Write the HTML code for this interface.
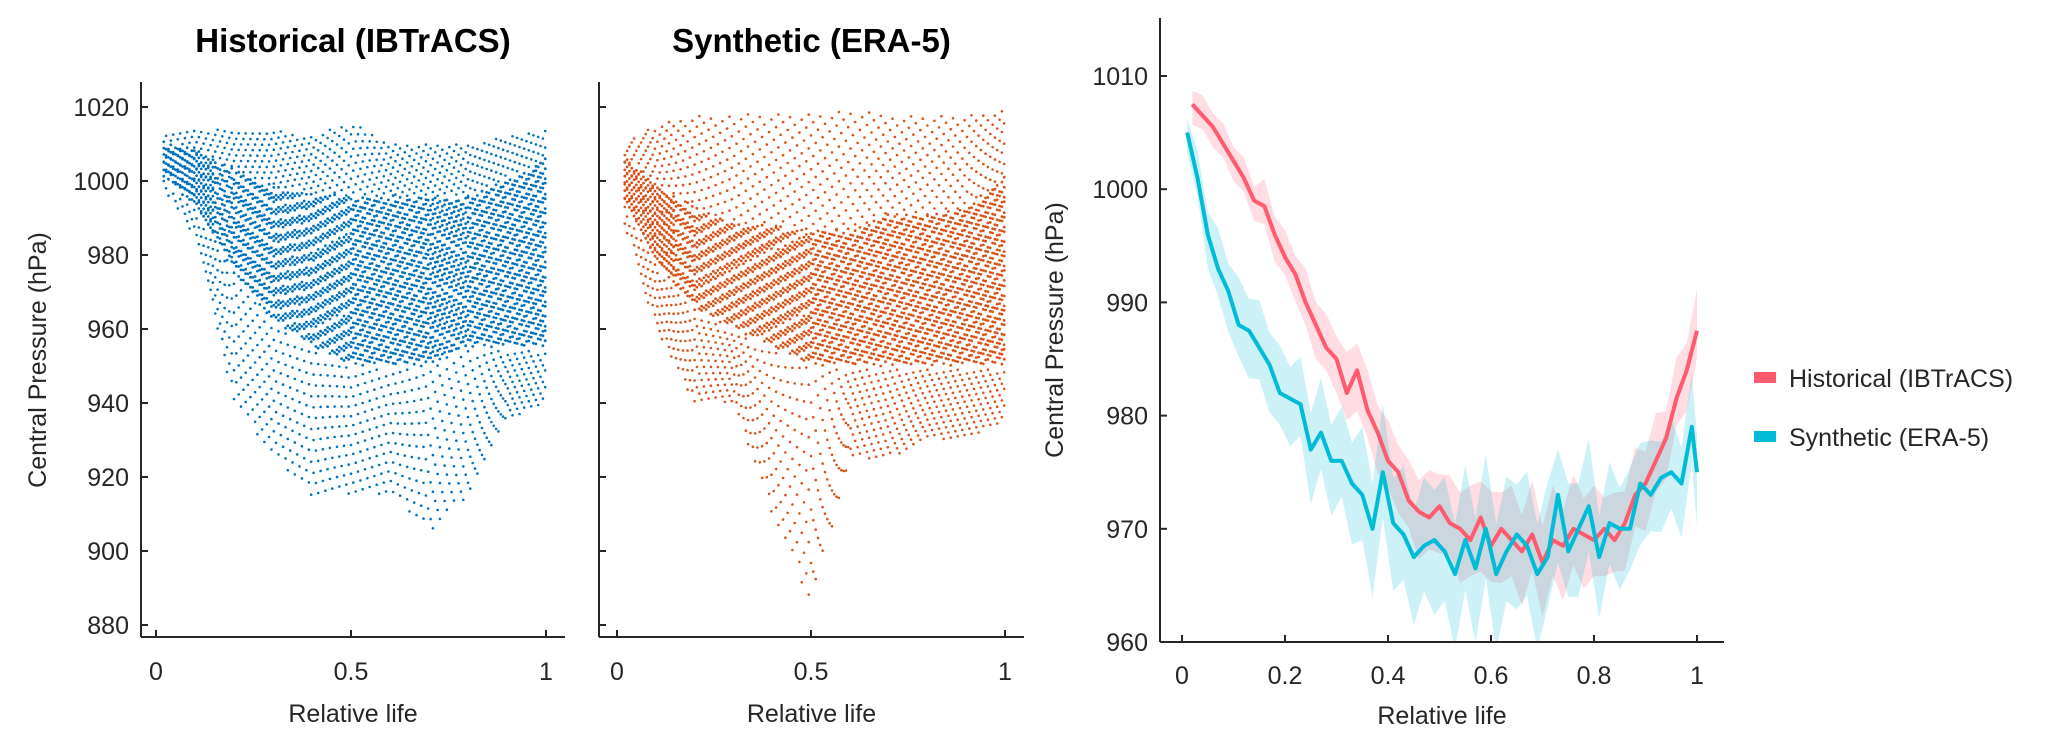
<!DOCTYPE html>
<html><head><meta charset="utf-8">
<style>
html,body{margin:0;padding:0;background:#fff;}
svg{display:block;font-family:"Liberation Sans",sans-serif;}
</style></head>
<body>
<svg id="fig" width="2067" height="741" viewBox="0 0 2067 741">
  <g id="p1"></g>
  <g id="p2"></g>
  <g id="p3"></g>
</svg>
<script>
// ---- scatter envelope data (relative life bins, hPa) ----
const binX = [0,0.1,0.2,0.3,0.4,0.5,0.6,0.7,0.8,0.9,1.0];
const histHi = [1012,1015,1013,1014,1012,1016,1010,1010,1010,1012,1014];
const histLo = [1000,985,940,925,915,915,915,905,915,935,940];
const histCoreHi = [1010,1008,1002,998,996,995,995,995,995,1000,1005];
const histCoreLo = [1003,993,975,962,955,950,950,950,955,955,955];
const synHi = [1010,1015,1018,1018,1018,1018,1019,1018,1018,1018,1019];
const synLo = [995,960,940,940,910,885,925,925,930,930,935];
const synCoreHi = [1008,998,992,988,987,986,986,990,990,992,1000];
const synCoreLo = [998,978,965,960,955,950,950,950,950,950,950];
// ---- mean curves ----
const histX = [0.02,0.04,0.06,0.08,0.10,0.12,0.14,0.16,0.18,0.20,0.22,0.24,0.26,0.28,0.30,0.32,0.34,0.36,0.38,0.40,0.42,0.44,0.46,0.48,0.50,0.52,0.54,0.56,0.58,0.60,0.62,0.64,0.66,0.68,0.70,0.72,0.74,0.76,0.78,0.80,0.82,0.84,0.86,0.88,0.90,0.92,0.94,0.96,0.98,1.00];
const histMean = [1007.5,1006.5,1005.5,1004,1002.5,1001,999,998.5,996,994,992.5,990,988,986,985,982,984,980.5,978.5,976,975,972.5,971.5,971,972,970.5,970,969,971,968.5,970,969,968,969.5,967,969,968.5,970,969.5,969,970,969,970.5,973,974,976,978,981.5,984,987.5];
const histHalf = [1.5,1.5,1.5,1.5,1.5,1.5,1.5,2,2,2,2,2.5,2.5,2.5,2.5,3,3,3,3,3,3,3,3.5,3.5,3.5,3.5,4,4,4,4,4,4,4,4,4,4,4,4,4,4,3.5,3.5,3.5,3.5,3.5,3.5,3,3,3,3];
const synX = [0.01,0.03,0.05,0.07,0.09,0.11,0.13,0.15,0.17,0.19,0.21,0.23,0.25,0.27,0.29,0.31,0.33,0.35,0.37,0.39,0.41,0.43,0.45,0.47,0.49,0.51,0.53,0.55,0.57,0.59,0.61,0.63,0.65,0.67,0.69,0.71,0.73,0.75,0.77,0.79,0.81,0.83,0.85,0.87,0.89,0.91,0.93,0.95,0.97,0.99,1.00];
const synMean = [1005,1001,996,993,991,988,987.5,986,984.5,982,981.5,981,977,978.5,976,976,974,973,970,975,970.5,969.5,967.5,968.5,969,968,966,969,966.5,970,966,968,969.5,968.5,966,967.5,973,968,970,972,967.5,970.5,970,970,974,973,974.5,975,974,979,975];
const synHalf = [1.5,2,2.5,3,3,3.5,3.5,3.5,3.5,3.5,3.5,3.5,4,4,4,4,4.5,5,5,5,5,5,5,5,5.5,5.5,5.5,5.5,5.5,5.5,5.5,5.5,5.5,5.5,5.5,5.5,5,5,5,5,4.5,4.5,4.5,4.5,4.5,4,4,4,4,4,4];
const p3YTicks = [960,970,980,990,1000,1010];
const p3XTicks = [0,0.2,0.4,0.6,0.8,1];
const scYTicks = [880,900,920,940,960,980,1000,1020];
const scXTicks = [0,0.5,1];

const NS='http://www.w3.org/2000/svg';
function mk(parent,tag,attrs,text){const e=document.createElementNS(NS,tag);for(const k in attrs)e.setAttribute(k,attrs[k]);if(text!==undefined)e.textContent=text;parent.appendChild(e);return e;}
function interp(xs,ys,x){for(let i=0;i<xs.length-1;i++){if(x<=xs[i+1]){const t=(x-xs[i])/(xs[i+1]-xs[i]);return ys[i]+t*(ys[i+1]-ys[i]);}}return ys[ys.length-1];}

function scatterPanel(g,ax,hi,lo,chi,clo,color,title,showYLabels){
  const x0=ax.x0,x1=ax.x1;
  const sx=v=>x0+v*(x1-x0);
  const sy=v=>107+(1020-v)*3.7;
  const pts=mk(g,'g',{fill:color});
  
  
  let col=0;
  for(let x=0.02;x<=1.0001;x+=0.006,col++){
    const h=interp(binX,hi,x),l=interp(binX,lo,x),ch=interp(binX,chi,x),cl=interp(binX,clo,x);
    const off=((col*7)%11)/11;
    const cs = x<0.15 ? 1.4 : 2.1;
    for(let y=cl+off*cs;y<=ch;y+=cs){mk(pts,'circle',{cx:sx(x).toFixed(1),cy:sy(y+((col*3+Math.round(y))%5)*0.3).toFixed(1),r:1.4});}
    const ext=(h-ch), step1=Math.max(4.5, ext/3.5);
    for(let y=ch+1+((col*5)%13)*step1/13;y<=h;y+=step1){mk(pts,'circle',{cx:sx(x).toFixed(1),cy:sy(y).toFixed(1),r:1.3});}
    const ext2=(cl-l), step2=Math.max(4.5, ext2/4.5);
    for(let y=cl-1-((col*4)%13)*step2/13;y>=l;y-=step2){mk(pts,'circle',{cx:sx(x).toFixed(1),cy:sy(y).toFixed(1),r:1.3});}
  }
  mk(g,'line',{x1:ax.left,y1:82,x2:ax.left,y2:637,stroke:'#262626','stroke-width':2});
  mk(g,'line',{x1:ax.left,y1:637,x2:ax.right,y2:637,stroke:'#262626','stroke-width':2});
  scYTicks.forEach(t=>{
    mk(g,'line',{x1:ax.left,y1:sy(t),x2:ax.left+7,y2:sy(t),stroke:'#262626','stroke-width':2});
    if(showYLabels){const e=mk(g,'text',{x:ax.left-12,y:sy(t)+9,'text-anchor':'end','font-size':25,fill:'#262626'},String(t));
      }
  });
  scXTicks.forEach(t=>{
    mk(g,'line',{x1:sx(t),y1:637,x2:sx(t),y2:630,stroke:'#262626','stroke-width':2});
    const e=mk(g,'text',{x:sx(t),y:680,'text-anchor':'middle','font-size':25,fill:'#262626'},String(t));
    
  });
  const xl=mk(g,'text',{x:(ax.left+ax.right)/2,y:722,'text-anchor':'middle','font-size':25,fill:'#262626'},'Relative life');
  
  const tt=mk(g,'text',{x:(ax.left+ax.right)/2,y:52,'text-anchor':'middle','font-size':33,'font-weight':'bold',fill:'#000'},title);
  
}
const p1=document.getElementById('p1'),p2=document.getElementById('p2'),p3=document.getElementById('p3');
scatterPanel(p1,{x0:156,x1:546,left:141,right:565},histHi,histLo,histCoreHi,histCoreLo,'#0072BD','Historical (IBTrACS)',true);
scatterPanel(p2,{x0:617,x1:1005,left:599,right:1024},synHi,synLo,synCoreHi,synCoreLo,'#D95319','Synthetic (ERA-5)',false);
const yl1=mk(p1,'text',{x:0,y:0,transform:'translate(46,360) rotate(-90)','text-anchor':'middle','font-size':25,fill:'#262626'},'Central Pressure (hPa)');


// ---- panel 3 ----
const X0=1182,X1=1697,Y0=642,Y1=76;
const sx3=v=>X0+v*(X1-X0);
const sy3=v=>Y0-(v-960)*(Y0-Y1)/50;
const clip=mk(p3,'clipPath',{id:'c3'});mk(clip,'rect',{x:1160,y:18,width:570,height:624});
const series=[{x:histX,m:histMean,h:histHalf,c:'#FF5A6E',b:'rgba(255,120,140,0.25)',n:'historical'},{x:synX,m:synMean,h:synHalf,c:'#00BCD6',b:'rgba(0,190,215,0.2)',n:'synthetic'}];
series.forEach(s=>{
  let up=s.x.map((x,i)=>sx3(x).toFixed(1)+','+sy3(s.m[i]+s.h[i]*(i%2?1.2:0.8)).toFixed(1));
  let dn=s.x.map((x,i)=>sx3(x).toFixed(1)+','+sy3(s.m[i]-s.h[i]*(i%2?0.8:1.2)).toFixed(1)).reverse();
  const band=mk(p3,'polygon',{points:up.concat(dn).join(' '),fill:s.b,'clip-path':'url(#c3)'});
  
});
series.forEach(s=>{
  const ln=mk(p3,'polyline',{points:s.x.map((x,i)=>sx3(x).toFixed(1)+','+sy3(s.m[i]).toFixed(1)).join(' '),fill:'none',stroke:s.c,'stroke-width':4,'stroke-linejoin':'round','clip-path':'url(#c3)'});
  
});
mk(p3,'line',{x1:1160,y1:18,x2:1160,y2:642,stroke:'#262626','stroke-width':2});
mk(p3,'line',{x1:1160,y1:642,x2:1724,y2:642,stroke:'#262626','stroke-width':2});
p3YTicks.forEach(t=>{
  mk(p3,'line',{x1:1160,y1:sy3(t),x2:1167,y2:sy3(t),stroke:'#262626','stroke-width':2});
  const e=mk(p3,'text',{x:1148,y:sy3(t)+9,'text-anchor':'end','font-size':25,fill:'#262626'},String(t));
  
});
p3XTicks.forEach(t=>{
  mk(p3,'line',{x1:sx3(t),y1:642,x2:sx3(t),y2:635,stroke:'#262626','stroke-width':2});
  const e=mk(p3,'text',{x:sx3(t),y:684,'text-anchor':'middle','font-size':25,fill:'#262626'},String(t));
  
});
const xl3=mk(p3,'text',{x:1442,y:724,'text-anchor':'middle','font-size':25,fill:'#262626'},'Relative life');

const yl3=mk(p3,'text',{x:0,y:0,transform:'translate(1063,330) rotate(-90)','text-anchor':'middle','font-size':25,fill:'#262626'},'Central Pressure (hPa)');

const leg=mk(p3,'g',{});

[['Historical (IBTrACS)','#FF5A6E',378],['Synthetic (ERA-5)','#00BCD6',437]].forEach(([t,c,y])=>{
  const r=mk(leg,'rect',{x:1754,y:y-6,width:22,height:11,fill:c});
  
  const e=mk(leg,'text',{x:1789,y:y+9,'font-size':25,fill:'#262626'},t);
  
});
</script>
</body></html>
